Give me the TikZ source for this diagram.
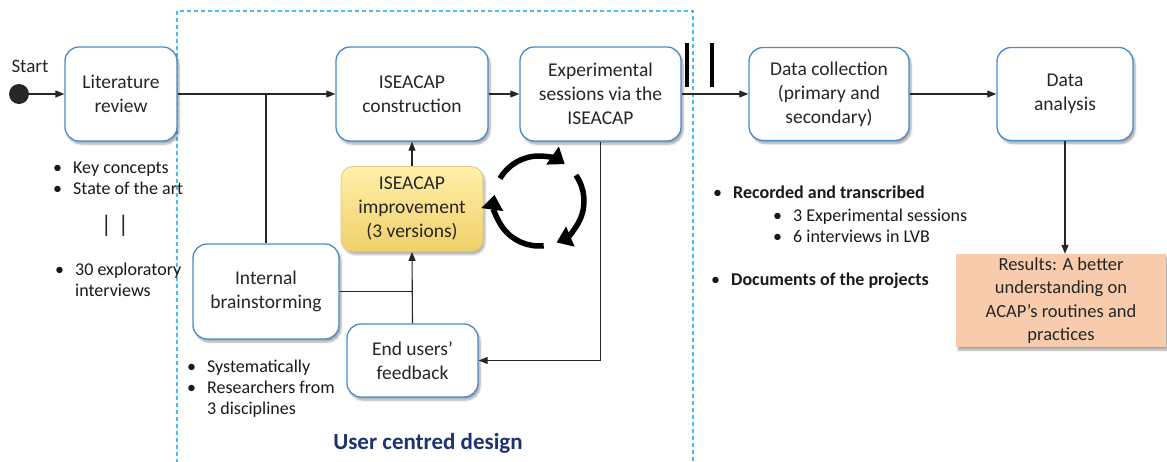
\documentclass[tikz,border=0pt]{standalone}
\usepackage{fontspec}
\setmainfont{Carlito}
\usetikzlibrary{arrows.meta,shadows.blur,positioning}
\definecolor{boxblue}{RGB}{70,140,205}
\definecolor{dashblue}{RGB}{70,190,240}
\definecolor{navy}{RGB}{28,52,110}
\definecolor{peach}{RGB}{248,203,173}
\definecolor{ytop}{RGB}{255,240,170}
\definecolor{ybot}{RGB}{240,208,105}
\definecolor{yborder}{RGB}{225,200,120}
\tikzset{
  procbox/.style={draw=boxblue, line width=1.3pt, rounded corners=14pt, fill=white,
    align=center, font=\fontsize{19.5}{24}\selectfont, text=black!85,
    blur shadow={shadow blur steps=6, shadow xshift=2pt, shadow yshift=-3pt, shadow opacity=35}},
  flow/.style={line width=1.1pt, black!85, -{Triangle[length=9pt,width=7pt]}},
  plainline/.style={line width=1.1pt, black!85},
  bul/.style={anchor=base west, font=\fontsize{18}{21}\selectfont, text=black!90, inner sep=0pt},
  cyc/.style={line width=5.5pt, -{Triangle[length=15pt,width=21pt]}},
}
\begin{document}
\begin{tikzpicture}[x=1pt,y=-1pt]
\useasboundingbox (0,0) rectangle (1167,461);
% dashed frame
\draw[dashblue, line width=1.2pt, dash pattern=on 4pt off 3pt] (177,470) -- (177,11) -- (693,11) -- (693,470);
% start
\node[circle, fill=black!85, minimum size=20pt, inner sep=0pt] (start) at (19,94) {};
\node[font=\fontsize{19}{21}\selectfont, text=black!85] (startlbl) at (30,66) {Start};
% boxes
\node[procbox, minimum width=112pt, minimum height=94pt] (lit) at (121,94) {Literature\\review};
\node[procbox, minimum width=152pt, minimum height=94pt] (cons) at (412,94) {ISEACAP\\construction};
\node[procbox, minimum width=161pt, minimum height=94pt] (exp) at (600.5,94) {Experimental\\sessions via the\\ISEACAP};
\node[procbox, minimum width=160pt, minimum height=93pt] (dc) at (829,94) {Data collection\\(primary and\\secondary)};
\node[procbox, minimum width=136pt, minimum height=93pt] (da) at (1065,94) {Data\\analysis};
\node[procbox, minimum width=146pt, minimum height=95pt] (brain) at (266,291.5) {Internal\\brainstorming};
\node[procbox, minimum width=131pt, minimum height=73pt] (fb) at (412.5,360.5) {End users’\\feedback};
\node[draw=yborder, line width=0.8pt, rounded corners=12pt, top color=ytop, bottom color=ybot,
  minimum width=142pt, minimum height=85pt, align=center, font=\fontsize{19.5}{24}\selectfont, text=black!85,
  blur shadow={shadow blur steps=6, shadow xshift=2pt, shadow yshift=-3pt, shadow opacity=30}]
  (impr) at (412,209) {ISEACAP\\improvement\\(3 versions)};
\node[fill=peach, minimum width=210pt, minimum height=93pt, align=center,
  font=\fontsize{18.5}{23.5}\selectfont, text=black!85,
  blur shadow={shadow blur steps=6, shadow xshift=2pt, shadow yshift=-3pt, shadow opacity=35}]
  (res) at (1061,300.5) {Results: A better\\understanding on\\ACAP’s routines and\\practices};
% connectors
\draw[flow] (start) -- (lit.west);
\draw[flow] (lit.east) -- (cons.west);
\coordinate (branch) at (brain.north |- lit.east);
\draw[plainline] (branch) -- (brain.north);
\draw[flow] (cons.east) -- (exp.west);
\draw[flow] (exp.east) -- (dc.west);
\draw[flow] (dc.east) -- (da.west);
\draw[flow] (da.south) -- (da.south |- res.north);
\draw[flow] (impr.north) -- (cons.south);
\draw[flow] (fb.north) -- (impr.south);
\coordinate (join) at (impr.south |- brain.east);
\draw[plainline] (brain.east) -- (join);
\draw[flow] (exp.south) |- (fb.east);
% double bars
\draw[line width=4pt, black] (687,43) -- (687,87);
\draw[line width=4pt, black] (712,43) -- (712,87);
% cycle arrows
\coordinate (cc) at (539,201);
\draw[cyc] (cc) ++(150:45pt) arc[start angle=150, end angle=55, radius=45pt];
\draw[cyc] (cc) ++(35:45pt) arc[start angle=35, end angle=-67, radius=45pt];
\draw[cyc] (cc) ++(-84:45pt) arc[start angle=-84, end angle=-188, radius=45pt];
% bullet texts
\node[bul] (b1) at (53,173) {•};
\node[bul] (t1) at (73,173) {Key concepts};
\node[bul] (b2) at (53,194) {•};
\node[bul] (t2) at (73,194) {State of the art};
\node[font=\fontsize{24}{26}\selectfont, text=black!85] (bars) at (115,226) {|\hspace{6pt}|};
\node[bul] (b3) at (55,275) {•};
\node[bul, align=left] (t3) at (75,296) {30 exploratory\\interviews};
\node[bul] (b4) at (187,372) {•};
\node[bul] (t4) at (207,372) {Systematically};
\node[bul] (b5) at (187,393) {•};
\node[bul, align=left] (t5) at (207,414) {Researchers from\\3 disciplines};
\node[bul] (b6) at (713,198) {•};
\node[bul, font=\fontsize{18}{21}\selectfont\bfseries] (t6) at (733,198) {Recorded and transcribed};
\node[bul] (b7) at (773,221) {•};
\node[bul] (t7) at (793,221) {3 Experimental sessions};
\node[bul] (b8) at (773,242) {•};
\node[bul] (t8) at (793,242) {6 interviews in LVB};
\node[bul] (b9) at (711,285) {•};
\node[bul, font=\fontsize{18}{21}\selectfont\bfseries] (t9) at (731,285) {Documents of the projects};
\node[anchor=base, font=\fontsize{23}{26}\selectfont\bfseries, text=navy, inner sep=0pt] (ucd) at (428,449) {User centred design};
\end{tikzpicture}
\end{document}
